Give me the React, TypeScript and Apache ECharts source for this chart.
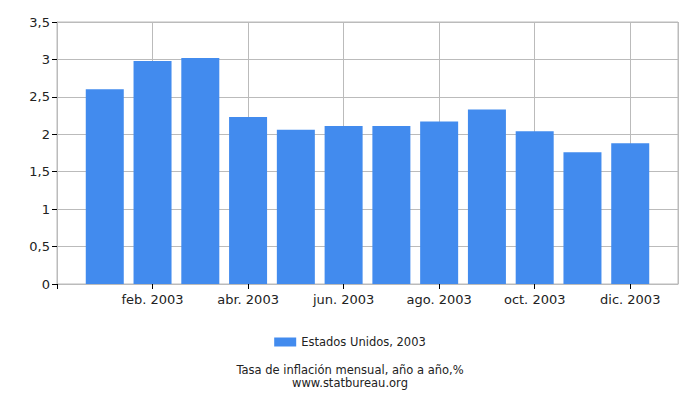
import { useEffect, useRef } from 'react';
import * as echarts from 'echarts';

// months of 2003 as axis labels
const MONTH_LABELS = [
  'ene. 2003',
  'feb. 2003',
  'mar. 2003',
  'abr. 2003',
  'may. 2003',
  'jun. 2003',
  'jul. 2003',
  'ago. 2003',
  'sep. 2003',
  'oct. 2003',
  'nov. 2003',
  'dic. 2003',
];
const MONTH_INDEX = [1, 2, 3, 4, 5, 6, 7, 8, 9, 10, 11, 12];
const INFLATION = [2.6, 2.98, 3.02, 2.23, 2.06, 2.11, 2.11, 2.17, 2.33, 2.04, 1.76, 1.88];
const SERIES_NAME = 'Estados Unidos, 2003';
const TITLE = 'Tasa de inflación mensual, año a año,%';
const SUBTITLE = 'www.statbureau.org';

const FONT = '"DejaVu Sans", Verdana, sans-serif';
const BAR_COLOR = '#428bee';

export default function App() {
  const chartRef = useRef<HTMLDivElement>(null);

  useEffect(() => {
    if (!chartRef.current) return;
    const chart = echarts.init(chartRef.current, undefined, { renderer: 'svg' });

    const footText = {
      fontFamily: FONT,
      fontSize: 11.5,
      fontWeight: 'normal',
      color: '#222',
    };

    chart.setOption({
      animation: false,
      textStyle: { fontFamily: FONT },
      grid: {
        left: 57,
        right: 22,
        top: 22,
        bottom: 116,
        show: true,
        borderColor: '#bbbbbb',
        borderWidth: 1,
      },
      legend: {
        top: 331,
        left: 'center',
        itemWidth: 22,
        itemHeight: 9,
        itemGap: 6,
        icon: 'rect',
        textStyle: { fontFamily: FONT, fontSize: 11.5, color: '#222' },
        data: [SERIES_NAME],
      },
      title: [
        { text: TITLE, left: 'center', top: 364, padding: 0, textStyle: footText },
        { text: SUBTITLE, left: 'center', top: 377, padding: 0, textStyle: footText },
      ],
      xAxis: {
        type: 'value',
        min: 0,
        max: 13,
        interval: 2,
        axisLine: { show: true, lineStyle: { color: '#bbbbbb' } },
        axisTick: { show: true, length: 5, lineStyle: { color: '#000' } },
        axisLabel: {
          margin: 9,
          fontFamily: FONT,
          fontSize: 13,
          color: '#222',
          showMaxLabel: false,
          formatter: (v: number) => (v >= 1 && v <= 12 ? MONTH_LABELS[v - 1] : ''),
        },
        splitLine: { show: true, lineStyle: { color: '#bbbbbb' } },
      },
      yAxis: {
        type: 'value',
        min: 0,
        max: 3.5,
        interval: 0.5,
        axisLine: { show: true, lineStyle: { color: '#bbbbbb' } },
        axisTick: { show: true, length: 5, lineStyle: { color: '#000' } },
        axisLabel: {
          margin: 7,
          fontFamily: FONT,
          fontSize: 13,
          color: '#222',
          formatter: (v: number) => String(v).replace('.', ','),
        },
        splitLine: { show: true, lineStyle: { color: '#bbbbbb' } },
      },
      series: [
        {
          name: SERIES_NAME,
          type: 'bar',
          barWidth: 38,
          itemStyle: { color: BAR_COLOR },
          data: MONTH_INDEX.map((m, i) => [m, INFLATION[i]]),
        },
      ],
    });

    return () => {
      chart.dispose();
    };
  }, []);

  return <div ref={chartRef} style={{ width: 700, height: 400, margin: -8 }} />;
}
